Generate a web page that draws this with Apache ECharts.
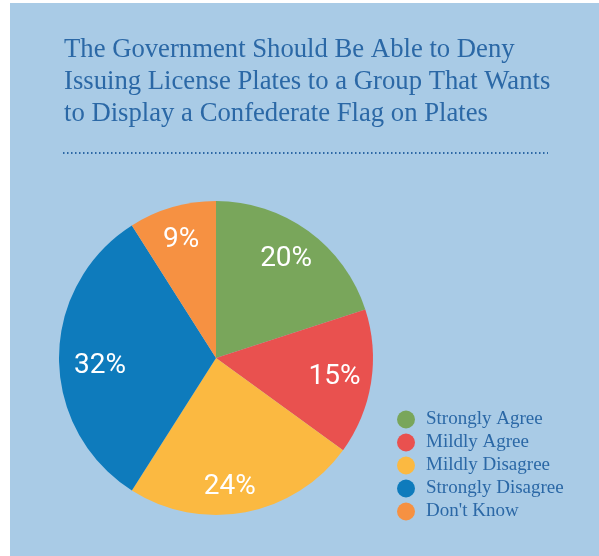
<!DOCTYPE html>
<html><head><meta charset="utf-8">
<script src="https://cdn.jsdelivr.net/npm/echarts@6/dist/echarts.min.js"></script>
<style>html,body{margin:0;padding:0;background:#fff}#c{width:599px;height:556px}</style>
</head><body><div id="c"></div>
<script>
const titleText = 'The Government Should Be Able to Deny\nIssuing License Plates to a Group That Wants\nto Display a Confederate Flag on Plates';
const categories = ['Strongly Agree', 'Mildly Agree', 'Mildly Disagree', 'Strongly Disagree', "Don't Know"];
const values = [20, 15, 24, 32, 9];
const colors = ['#79a65b', '#e9514f', '#fbb941', '#0e7bbc', '#f69142'];
// small hand-tuned label nudges (style only)
const labelNudges = [[-1, -1], [-1, 0], [-9, 10], [5, 8], [-1, -2]];

const data = categories.map((n, i) => ({ name: n, value: values[i], itemStyle: { color: colors[i] } }));
const chart = echarts.init(document.getElementById('c'));
chart.setOption({
  backgroundColor: '#ffffff',
  animation: false,
  graphic: [
    { type: 'rect', z: -10, shape: { x: 10, y: 3, width: 589, height: 553 }, style: { fill: '#a9cbe6' } },
    { type: 'line', shape: { x1: 63, y1: 153, x2: 548, y2: 153 }, style: { stroke: '#2d68a5', lineWidth: 2, lineDash: [1.5, 2.5] } }
  ],
  title: {
    text: titleText, left: 59, top: 29,
    textStyle: { fontFamily: 'Liberation Serif', fontWeight: 'normal', fontSize: 26.7, lineHeight: 32, color: '#2b68a6' }
  },
  legend: {
    orient: 'vertical', left: 392, top: 405, itemWidth: 18, itemHeight: 18, itemGap: 4,
    icon: 'circle',
    textStyle: { fontFamily: 'Liberation Serif', fontSize: 19, lineHeight: 18, color: '#2b68a6', padding: [0, 0, 0, 6] },
    data: categories
  },
  series: [
    {
      type: 'pie', radius: 157, center: [216, 358], startAngle: 90, clockwise: true,
      label: { show: false }, labelLine: { show: false }, silent: true,
      data: data
    },
    {
      type: 'pie', radius: [79, 157], center: [216, 358], startAngle: 90, clockwise: true,
      silent: true, legendHoverLink: false,
      itemStyle: { color: 'rgba(0,0,0,0)' },
      label: { show: true, position: 'inside', formatter: '{c}%', color: '#fff',
               fontFamily: 'Roboto', fontWeight: 'normal', fontSize: 28 },
      labelLine: { show: false },
      data: categories.map((n, i) => ({ name: n + ' ', value: values[i], label: { offset: labelNudges[i] } }))
    }
  ]
});
</script></body></html>
